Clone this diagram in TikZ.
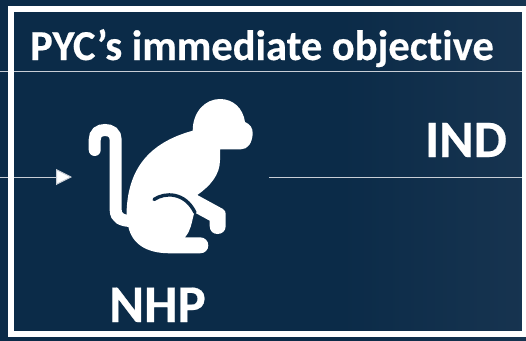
\documentclass[tikz,border=0pt]{standalone}
\usepackage{fontspec}
\setmainfont[Ligatures=NoCommon,BoldFeatures={FakeBold=0.4}]{Carlito}
\usetikzlibrary{arrows.meta}
\definecolor{navy}{RGB}{11,43,72}
\definecolor{navyr}{RGB}{23,52,80}
\definecolor{rulec}{RGB}{200,206,214}
\tikzset{
  lbl/.style={text=white,font=\bfseries,inner sep=0pt,anchor=base},
  thin rule/.style={draw=rulec,line width=1pt},
  conn/.style={draw=rulec,line width=1pt},
}
\begin{document}
\begin{tikzpicture}[x=1pt,y=-1pt]
\useasboundingbox (0,0) rectangle (526,340);
\fill[navy] (-3,-3) rectangle (340,343);
\shade[left color=navy,right color=navyr,shading angle=90] (339.5,-3) rectangle (529,343);
% rules
\coordinate (ruleL) at (0,71.5);
\coordinate (ruleR) at (521.5,71.5);
\draw[thin rule] (ruleL) -- (ruleR);
\coordinate (inL) at (0,177);
\coordinate (inR) at (72,177);
\coordinate (outL) at (269,177);
\coordinate (outR) at (521.5,177);
\draw[conn,-{Triangle[width=16pt,length=16pt,fill=white]}] (inL) -- (inR);
\draw[conn] (outL) -- (outR);
% frame
\draw[white,line width=6pt] (11.2,9) -- (530,9);
\draw[white,line width=6pt] (11.2,6) -- (11.2,337);
\draw[white,line width=6pt] (8.2,334) -- (530,334);
\fill[white] (521.5,6) rectangle (530,337);
% monkey
\draw[white,line width=12pt,line cap=round] (94.7,150) -- (94.7,140) .. controls (94.7,133) and (99,130) .. (105,130) .. controls (111,130) and (115.7,133) .. (115.7,140) -- (115.7,210) .. controls (115.7,218) and (122,221) .. (132,221);
\fill[white] (192.7,130.7) .. controls (192.7,112) and (205,99) .. (220,99)
 .. controls (233,99) and (243,108) .. (245,122)
 .. controls (250,124) and (253,128) .. (252.7,134)
 .. controls (252,143) and (248,149.3) .. (241,149.3)
 -- (220,149.3) -- (220,160)
 .. controls (220,175) and (210,186) .. (197.3,195)
 -- (223,209) .. controls (225,210.5) and (225.7,212) .. (225.7,214)
 -- (225.7,226) .. controls (225.7,231) and (222,234) .. (217.5,234)
 .. controls (213,234) and (209.7,231) .. (209.7,226)
 -- (209.7,220.7) -- (194.3,212.3)
 .. controls (191,225) and (191,230) .. (185,237.3)
 -- (200,237.3) .. controls (205,237.3) and (208.3,241) .. (208.3,245.3)
 .. controls (208.3,250) and (205,253.3) .. (200,253.3)
 -- (170,253.3) .. controls (145,253.3) and (132,243) .. (128.3,226.7)
 -- (126.5,215)
 .. controls (127,170) and (148,143) .. (192.7,130.7) -- cycle;
\draw[navy,line width=3.4pt,line cap=round] (154,199.5) .. controls (165,192) and (185,192) .. (195,212.5);
% text
\node[lbl,font=\bfseries\fontsize{42.5}{44}\selectfont] (title) at (262,60) {PYC’s immediate objective};
\node[lbl,font=\bfseries\fontsize{52.5}{54}\selectfont] (ind) at (466,157) {IND};
\node[lbl,font=\bfseries\fontsize{53}{55}\selectfont] (nhp) at (157.5,322) {NHP};
\end{tikzpicture}
\end{document}
